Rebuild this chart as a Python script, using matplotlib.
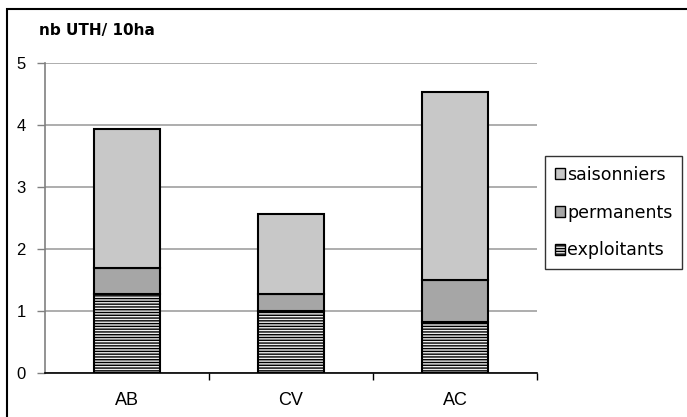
import matplotlib
matplotlib.use("Agg")
import matplotlib.pyplot as plt
from matplotlib.patches import Rectangle
import numpy as np

plt.rcParams['font.family'] = ['Liberation Sans', 'DejaVu Sans']
plt.rcParams['hatch.linewidth'] = 1.0

categories = ["AB", "CV", "AC"]
exploitants = [1.27, 1.00, 0.82]
permanents = [0.42, 0.27, 0.68]
saisonniers = [2.25, 1.29, 3.03]
series_labels = ["exploitants", "permanents", "saisonniers"]
yticks = [0, 1, 2, 3, 4, 5]
title = "nb UTH/ 10ha"

fig = plt.figure(figsize=(6.87, 4.17), dpi=100)
ax = fig.add_axes([45/687, 1-373/417, (537-45)/687, (373-63)/417])

x = np.arange(len(categories))
w = 0.4
e = np.array(exploitants)
p = np.array(permanents)
s = np.array(saisonniers)

plt.rcParams['hatch.color'] = '#a8a8a8'
b1 = ax.bar(x, e, w, facecolor='#eeeeee', edgecolor='black', linewidth=1.5,
            hatch='------', label=series_labels[0], zorder=3)
b2 = ax.bar(x, p, w, bottom=e, facecolor='#a6a6a6', edgecolor='black', linewidth=1.5,
            label=series_labels[1], zorder=3)
b3 = ax.bar(x, s, w, bottom=e+p, facecolor='#c8c8c8', edgecolor='black', linewidth=1.5,
            label=series_labels[2], zorder=3)

ax.set_xlim(-0.5, 2.5)
ax.set_ylim(0, 5)
ax.set_yticks(yticks)
ax.yaxis.grid(True, color='#a0a0a0', linewidth=1.2, zorder=0)
ax.set_axisbelow(True)
ax.set_xticks(x)
ax.set_xticklabels(categories, fontsize=13)
ax.tick_params(axis='x', length=0, pad=14)
ax.set_xticks([0.5, 1.5, 2.5], minor=True)
ax.tick_params(axis='x', which='minor', length=5, width=1, color='black', direction='out')
ax.tick_params(axis='y', labelsize=12, length=6, width=1, color='#808080', pad=8)
for sp in ['top', 'right']:
    ax.spines[sp].set_visible(False)
ax.spines['left'].set_color('#808080')
ax.spines['left'].set_linewidth(1.2)
ax.spines['bottom'].set_color('black')
ax.spines['bottom'].set_linewidth(1.2)

fig.text(39/687, 1-30/417, title, fontsize=11, fontweight='bold', va='center', ha='left',
         family='DejaVu Sans')

handles = [b3, b2, b1]
leg = fig.legend(handles, [series_labels[2], series_labels[1], series_labels[0]],
                 loc='upper left', bbox_to_anchor=(545/687, 1-156/417),
                 prop={'family': 'DejaVu Sans', 'size': 12.5}, frameon=True, fancybox=False, shadow=False,
                 handlelength=0.6, handleheight=0.6, handletextpad=0.12,
                 labelspacing=1.15, borderpad=0.55, borderaxespad=0)
leg.get_frame().set_edgecolor('black')
leg.get_frame().set_linewidth(1.0)
for h in leg.legend_handles:
    h.set_linewidth(1.0)

fig.patches.append(Rectangle((7/687, -0.1), 1.2, 1-9/417+0.1, transform=fig.transFigure,
                             fill=False, edgecolor='black', linewidth=1.5))

fig.savefig("out.png", dpi=100)
